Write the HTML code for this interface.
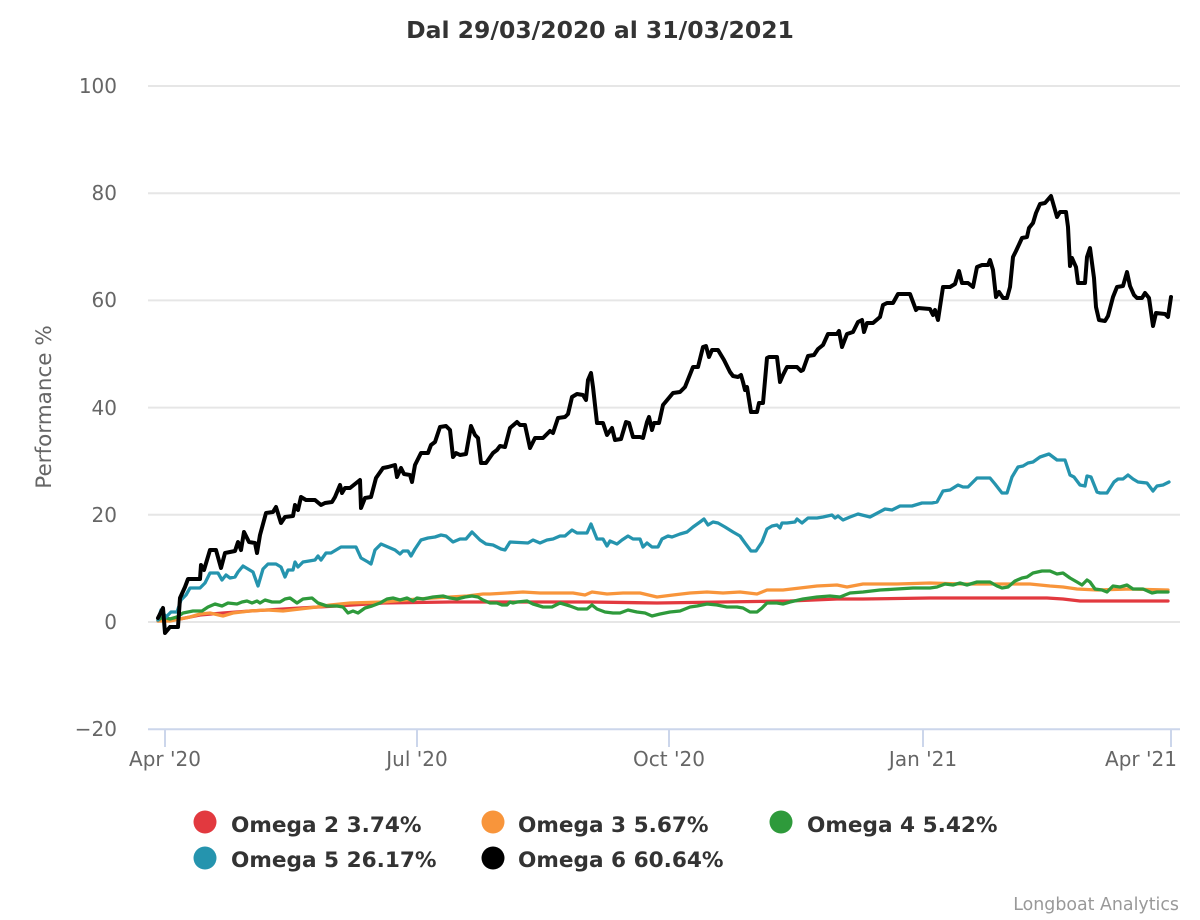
<!DOCTYPE html>
<html>
<head>
<meta charset="utf-8">
<style>
html,body{margin:0;padding:0;background:#fff;}
svg{display:block;font-family:"DejaVu Sans","Liberation Sans",sans-serif;}
</style>
</head>
<body>
<svg width="1200" height="920" viewBox="0 0 1200 920" xmlns="http://www.w3.org/2000/svg">
<rect width="1200" height="920" fill="#fff"/>
<text x="600" y="38" text-anchor="middle" font-size="23.5" font-weight="bold" fill="#333">Dal 29/03/2020 al 31/03/2021</text>

<g stroke="#e6e6e6" stroke-width="2">
<line x1="148" y1="86" x2="1180" y2="86"/>
<line x1="148" y1="193.2" x2="1180" y2="193.2"/>
<line x1="148" y1="300.4" x2="1180" y2="300.4"/>
<line x1="148" y1="407.6" x2="1180" y2="407.6"/>
<line x1="148" y1="514.8" x2="1180" y2="514.8"/>
<line x1="148" y1="622" x2="1180" y2="622"/>
</g>
<line x1="148" y1="729.2" x2="1180" y2="729.2" stroke="#ccd6eb" stroke-width="2"/>
<g stroke="#ccd6eb" stroke-width="2">
<line x1="165" y1="729" x2="165" y2="747"/>
<line x1="417" y1="729" x2="417" y2="747"/>
<line x1="669" y1="729" x2="669" y2="747"/>
<line x1="923" y1="729" x2="923" y2="747"/>
<line x1="1171" y1="729" x2="1171" y2="747"/>
</g>

<g font-size="20" fill="#666" text-anchor="end">
<text x="117" y="93">100</text>
<text x="117" y="200">80</text>
<text x="117" y="307">60</text>
<text x="117" y="415">40</text>
<text x="117" y="522">20</text>
<text x="117" y="629">0</text>
<text x="117" y="736">−20</text>
</g>
<g font-size="20" fill="#666" text-anchor="middle">
<text x="165" y="766">Apr '20</text>
<text x="417" y="766">Jul '20</text>
<text x="669" y="766">Oct '20</text>
<text x="923" y="766">Jan '21</text>
<text x="1141" y="766">Apr '21</text>
</g>
<text transform="translate(51,407) rotate(-90)" text-anchor="middle" font-size="21.5" fill="#666">Performance %</text>

<g fill="none" stroke-linejoin="round" stroke-linecap="round">
<polyline stroke="#e2393f" stroke-width="3.3" points="158,621 180,619 200,615 223,613 250,611 300,608 337,606 383,603 450,602 500,602 523,602 590,602 657,603 723,602 790,601 837,599 863,599 930,598 997,598 1047,598 1063,599 1080,601 1113,601 1168,601"/>
<polyline stroke="#f8953b" stroke-width="3.3" points="158,621 170,621 180,619 190,617 200,614 210,613 223,616 233,613 250,611 267,610 283,611 300,609 317,607 330,605 350,603 383,602 417,599 450,597 467,596 483,594 490,594 507,593 523,592 540,593 557,593 573,593 585,595 592,592 607,594 623,593 640,593 657,597 673,595 690,593 707,592 723,593 740,592 757,594 767,590 783,590 800,588 817,586 837,585 847,587 863,584 897,584 930,583 963,584 997,584 1030,584 1050,586 1063,587 1077,589 1097,590 1130,589 1168,590"/>
<polyline stroke="#2e9a3b" stroke-width="3.3" points="158,620 163,617 170,619 177,617 183,613 193,611 202,611 208,607 215,604 222,606 228,603 237,604 242,602 247,601 252,603 257,601 260,603 265,600 272,602 280,602 285,599 290,598 297,603 303,599 312,598 318,603 327,606 337,606 343,607 348,613 353,611 358,613 365,608 372,606 380,603 387,599 393,598 400,600 407,598 413,601 417,598 423,599 433,597 443,596 450,598 457,599 465,597 472,596 478,597 483,600 490,603 497,603 502,605 507,605 510,602 513,603 517,602 527,601 533,604 543,607 552,607 560,603 570,606 578,609 587,609 592,605 597,609 605,612 613,613 620,613 628,610 637,612 645,613 652,616 660,614 670,612 680,611 690,607 697,606 707,604 717,605 727,607 737,607 743,608 750,612 757,612 762,608 767,603 777,603 783,604 790,602 803,599 817,597 830,596 840,597 850,593 863,592 880,590 897,589 913,588 930,588 937,587 945,584 953,585 960,583 967,585 977,582 990,582 997,586 1002,588 1008,587 1015,581 1022,578 1027,577 1033,573 1042,571 1050,571 1057,574 1063,573 1070,578 1077,582 1082,585 1087,580 1090,582 1095,589 1102,590 1107,592 1113,586 1120,587 1127,585 1133,589 1143,589 1152,593 1157,592 1163,592 1168,592"/>
<polyline stroke="#2594ae" stroke-width="3.3" points="158,620 161,610 166,617 171,612 177,612 181,600 186,595 190,588 200,588 205,583 210,573 218,573 222,580 226,575 230,578 235,577 238,572 243,566 248,569 253,572 258,586 263,569 268,564 276,564 281,567 285,577 288,570 293,570 295,562 298,567 303,562 315,560 318,556 321,560 326,553 331,553 341,547 356,547 361,558 368,562 371,564 375,550 381,544 388,547 395,550 400,554 403,551 408,551 411,556 415,549 421,540 428,538 435,537 441,535 446,536 453,542 460,539 466,539 472,532 480,540 486,544 493,545 501,549 505,550 510,542 528,543 533,540 540,543 547,540 553,539 560,536 565,536 572,530 577,533 587,533 591,524 597,539 603,539 607,546 610,541 617,544 622,540 628,536 633,539 640,539 643,547 647,543 652,547 658,547 662,539 668,536 672,537 680,534 687,532 693,527 700,522 704,519 708,525 713,522 718,523 725,527 733,532 740,536 745,543 751,551 756,551 762,542 767,529 772,526 777,525 780,528 782,523 787,523 795,522 797,519 802,523 808,518 817,518 823,517 832,515 835,518 838,516 843,520 850,517 858,514 870,517 885,509 892,510 900,506 912,506 922,503 932,503 937,502 943,491 950,490 958,485 963,487 968,487 977,478 990,478 995,484 1002,493 1007,493 1012,477 1018,467 1023,466 1028,463 1033,462 1040,457 1049,454 1053,457 1057,460 1065,460 1070,475 1074,477 1080,485 1085,486 1087,476 1091,477 1097,492 1100,493 1107,493 1114,482 1118,479 1123,479 1128,475 1133,479 1138,482 1147,483 1153,491 1157,486 1163,485 1169,482"/>
<polyline stroke="#000" stroke-width="4" points="158,618 163,608 165,633 170,627 178,627 180,598 185,587 188,579 200,579 201,565 204,570 210,550 216,550 221,568 225,553 235,551 238,542 241,550 244,532 249,542 255,543 257,553 260,535 266,513 273,512 276,507 281,523 285,517 293,516 295,505 298,510 301,497 306,500 315,500 321,505 325,503 332,502 335,497 340,485 342,493 345,488 350,488 360,480 361,508 365,498 371,497 376,478 383,468 388,467 395,465 397,477 401,468 404,474 410,475 412,482 415,465 421,453 428,453 431,445 435,442 440,427 446,426 450,430 453,457 456,453 460,455 466,454 471,426 475,435 478,438 481,463 486,463 493,453 497,450 500,446 505,447 510,428 517,422 520,425 525,425 530,448 535,438 543,438 550,431 553,433 558,418 565,417 568,414 572,397 577,394 583,395 586,400 588,380 591,373 593,387 597,423 603,423 607,435 612,428 615,440 621,439 626,422 629,423 633,437 640,437 643,438 647,422 649,417 652,430 654,423 659,423 663,405 668,399 673,393 680,392 685,387 689,377 693,367 698,367 703,347 706,346 709,357 712,350 718,350 724,360 730,372 733,376 738,377 741,375 743,382 745,390 747,387 751,412 757,412 759,403 763,403 767,358 769,357 777,357 780,382 783,375 787,367 797,367 801,371 803,370 808,356 814,355 818,349 823,345 828,334 837,334 839,331 842,347 847,334 853,332 858,322 862,320 864,332 867,323 873,323 880,317 883,305 887,303 893,303 898,294 910,294 916,310 918,308 930,309 933,315 935,310 938,320 943,287 950,287 955,284 959,271 962,283 968,283 973,287 977,267 982,265 988,265 990,260 993,270 996,297 999,292 1003,298 1007,298 1010,287 1013,257 1016,251 1022,238 1027,237 1029,228 1033,223 1036,213 1040,204 1045,203 1051,196 1053,203 1057,217 1060,212 1066,212 1068,227 1070,266 1072,258 1076,267 1078,283 1085,283 1087,257 1090,248 1094,278 1096,307 1099,320 1105,321 1108,316 1113,297 1117,287 1123,286 1127,272 1130,286 1134,295 1137,298 1142,298 1145,293 1149,298 1153,326 1156,313 1165,314 1168,317 1171,297"/>
</g>

<g font-size="21.6" font-weight="bold" fill="#333">
<circle cx="205" cy="822" r="11.5" fill="#e2393f"/>
<text x="231" y="832">Omega 2 3.74%</text>
<circle cx="493" cy="822" r="11.5" fill="#f8953b"/>
<text x="518" y="832">Omega 3 5.67%</text>
<circle cx="781" cy="822" r="11.5" fill="#2e9a3b"/>
<text x="807" y="832">Omega 4 5.42%</text>
<circle cx="205" cy="858" r="11.5" fill="#2594ae"/>
<text x="231" y="867">Omega 5 26.17%</text>
<circle cx="493" cy="858" r="11.5" fill="#000"/>
<text x="518" y="867">Omega 6 60.64%</text>
</g>

<text x="1179" y="910" text-anchor="end" font-size="17.4" fill="#999">Longboat Analytics</text>
</svg>
</body>
</html>
